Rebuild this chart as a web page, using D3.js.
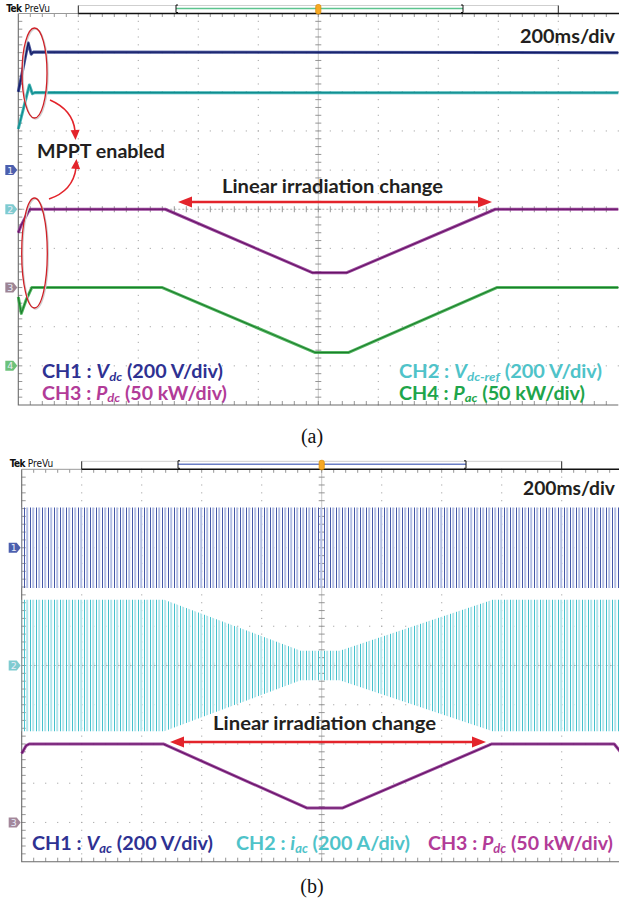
<!DOCTYPE html>
<html><head><meta charset="utf-8">
<script src="https://cdn.jsdelivr.net/npm/d3@7"></script>
<style>html,body{margin:0;padding:0;background:#fff}svg{display:block}</style>
</head><body>
<script>
// ================= DATA =================
const timeDomainMs = [-1000, 1000];            // 10 div x 200 ms, trigger at 0
const timeBaseLabel = "200ms/div";
const rampLabel = "Linear irradiation change";
const mpptLabel = "MPPT enabled";
const captions = ["(a)", "(b)"];

// Panel (a) traces: [time ms, value]  (V or kW)
const aCh1Vdc    = [[-1000,400],[-967,650],[-957,592],[-950,603],[1000,600]];
const aCh2VdcRef = [[-1000,410],[-963,635],[-953,590],[-945,596],[1000,595]];
const aCh3Pdc    = [[-1000,70],[-990,80],[-962,100],[-510,100],[-20,19],[95,19],[590,100],[1000,100]];
const aCh4Pac    = [[-1000,88],[-990,67],[-973,85],[-955,100],[-520,100],[-10,17],[100,17],[595,100],[1000,100]];

// Panel (b): AC traces drawn as their peak envelopes [time ms, peak]
const bCh1VacPeak = [[-1000,205],[1000,205]];
const bCh2IacPeak = [[-1000,335],[-525,335],[-70,75],[60,75],[570,335],[1000,335]];
const bCh3Pdc     = [[-1000,88],[-985,98],[-975,100],[-528,100],[-50,18.5],[70,18.5],[567,100],[975,100],[1000,88]];

// Channel settings: units per division, ground-marker offset (div)
const aChannels = [
  {id:"1", perDiv:200, offset:1,  data:aCh1Vdc},
  {id:"2", perDiv:200, offset:0,  data:aCh2VdcRef},
  {id:"3", perDiv:50,  offset:-2, data:aCh3Pdc},
  {id:"4", perDiv:50,  offset:-4, data:aCh4Pac}
];
const bChannels = [
  {id:"1", perDiv:200, offset:3,  data:bCh1VacPeak},
  {id:"2", perDiv:200, offset:0,  data:bCh2IacPeak},
  {id:"3", perDiv:50,  offset:-4, data:bCh3Pdc}
];

const aLegendRow1 = [
  [{t:"CH1 : "},{t:"V",i:1},{t:"dc",sub:1,i:1},{t:" (200 V/div)"}],
  [{t:"CH2 : "},{t:"V",i:1},{t:"dc-ref",sub:1,i:1},{t:" (200 V/div)"}]
];
const aLegendRow2 = [
  [{t:"CH3 : "},{t:"P",i:1},{t:"dc",sub:1,i:1},{t:" (50 kW/div)"}],
  [{t:"CH4 : "},{t:"P",i:1},{t:"ac",sub:1,i:1},{t:" (50 kW/div)"}]
];
const bLegend = [
  [{t:"CH1 : "},{t:"V",i:1},{t:"ac",sub:1,i:1},{t:" (200 V/div)"}],
  [{t:"CH2 : "},{t:"i",i:1},{t:"ac",sub:1,i:1},{t:" (200 A/div)"}],
  [{t:"CH3 : "},{t:"P",i:1},{t:"dc",sub:1,i:1},{t:" (50 kW/div)"}]
];

// ================= STYLE / LAYOUT =================
const FONT = "Lato, 'Open Sans', sans-serif";
const C = {
  ch1:"#233284", ch1Core:"#141d66", ch2:"#27a6a8", ch2Core:"#0f8c8e",
  ch3:"#8a2a8c", ch3Core:"#661266", ch4:"#35a845", ch4Core:"#1b7e2b",
  t1:"#2e3192", t2:"#4fc3c9", t3:"#b23b98", t4:"#1ea54a",
  red:"#e3242b", text:"#231f20"
};
const W = 619, H = 907;
const svg = d3.select("body").append("svg").attr("width",W).attr("height",H)
  .attr("font-family",FONT);
svg.append("rect").attr("width",W).attr("height",H).attr("fill","#fff");
const defs = svg.append("defs");

function stripePattern(id, dark, light){
  const p = defs.append("pattern").attr("id",id).attr("patternUnits","userSpaceOnUse")
    .attr("width",6).attr("height",10);
  p.append("rect").attr("x",0).attr("y",0).attr("width",1).attr("height",10).attr("fill",dark);
  p.append("rect").attr("x",2.2).attr("y",0).attr("width",2).attr("height",10).attr("fill",light);
}
stripePattern("stripeBlue", "#4457a6", "#b3bee4");
stripePattern("stripeTeal", "#45c1cc", "#b2e5eb");

function makePanel(P){
  P.x = d3.scaleLinear().domain(timeDomainMs).range([P.left, P.left+P.width]);
  P.yDiv = d3.scaleLinear().domain([-5,5]).range([P.top+P.height, P.top]);
  P.g = svg.append("g");
  return P;
}
const PA = makePanel({left:18.3, top:13.5, width:600, height:391.5});
const PB = makePanel({left:21.7, top:469.3, width:600, height:392.4});

function chY(P, ch){ return v => P.yDiv(ch.offset + v/ch.perDiv); }

function drawGrid(P){
  const g = P.g.append("g");
  const dx = P.width/10, dy = P.height/10;
  const cx = P.x(0), cy = P.yDiv(0);
  const dots = [];
  for (let i=1;i<10;i++){ if(i===5) continue;
    const x = P.left+i*dx;
    d3.range(0,51).forEach(j => dots.push([x, P.top+j*dy/5])); }
  for (let j=1;j<10;j++){ if(j===5) continue;
    const y = P.top+j*dy;
    d3.range(0,51).forEach(i => dots.push([P.left+i*dx/5, y])); }
  g.selectAll("rect.dot").data(dots).join("rect").attr("class","dot")
    .attr("x",d=>d[0]-0.55).attr("y",d=>d[1]-0.55).attr("width",1.1).attr("height",1.1).attr("fill","#a8a8a8");
  g.append("line").attr("x1",cx).attr("x2",cx).attr("y1",P.top).attr("y2",P.top+P.height)
    .attr("stroke","#b8b8b8").attr("stroke-width",0.8);
  g.append("line").attr("x1",P.left).attr("x2",P.left+P.width).attr("y1",cy).attr("y2",cy)
    .attr("stroke","#a8a8a8").attr("stroke-width",0.9).attr("stroke-dasharray","2,2");
  const tk = [];
  d3.range(1,50).forEach(j => tk.push([cx-3, P.top+j*dy/5, cx+3, P.top+j*dy/5]));
  d3.range(1,50).forEach(i => tk.push([P.left+i*dx/5, cy-3, P.left+i*dx/5, cy+3]));
  d3.range(1,50).forEach(j => tk.push([P.left, P.top+j*dy/5, P.left+4, P.top+j*dy/5]));
  d3.range(1,50).forEach(i => tk.push([P.left+i*dx/5, P.top+P.height, P.left+i*dx/5, P.top+P.height-4]));
  d3.range(1,50).forEach(i => tk.push([P.left+i*dx/5, P.top, P.left+i*dx/5, P.top+3.5]));
  g.selectAll("line.tk").data(tk).join("line").attr("class","tk")
    .attr("x1",d=>d[0]).attr("y1",d=>d[1]).attr("x2",d=>d[2]).attr("y2",d=>d[3])
    .attr("stroke","#8a8a8a").attr("stroke-width",0.9);
  g.append("path").attr("d",`M${P.left},${P.top}V${P.top+P.height}H${P.left+P.width}`)
    .attr("fill","none").attr("stroke","#6a6a6a").attr("stroke-width",1.1);
}

function drawTopBar(P, barColor, barL, barR){
  const g = P.g.append("g");
  const y0 = P.top;
  const bx0 = P.left+60, bx1 = P.left+540;
  g.append("text").attr("x",P.left-12).attr("y",y0-2).attr("font-family","'DejaVu Sans Condensed','DejaVu Sans',sans-serif")
    .attr("font-size",10).attr("fill","#111")
    .call(t => { t.append("tspan").attr("font-weight","bold").attr("letter-spacing",-0.6).text("Tek");
                 t.append("tspan").attr("dx",3).text("PreVu"); });
  g.append("line").attr("x1",P.left).attr("x2",bx0).attr("y1",y0).attr("y2",y0).attr("stroke","#999").attr("stroke-width",1);
  g.append("line").attr("x1",bx0).attr("x2",W+5).attr("y1",y0).attr("y2",y0).attr("stroke","#111").attr("stroke-width",1.4);
  g.append("line").attr("x1",bx0).attr("x2",bx1).attr("y1",y0-8).attr("y2",y0-8).attr("stroke","#cfcfcf").attr("stroke-width",1);
  [bx0,bx1].forEach(x => g.append("line").attr("x1",x).attr("x2",x).attr("y1",y0-8).attr("y2",y0).attr("stroke","#222").attr("stroke-width",1));
  g.append("line").attr("x1",barL).attr("x2",barR).attr("y1",y0-5).attr("y2",y0-5).attr("stroke",barColor).attr("stroke-width",1.6);
  g.append("path").attr("d",`M${barL+2},${y0-8.5}H${barL}V${y0-1}H${barL+2}`).attr("fill","none").attr("stroke","#111").attr("stroke-width",1);
  g.append("path").attr("d",`M${barR-2},${y0-8.5}H${barR}V${y0-1}H${barR-2}`).attr("fill","none").attr("stroke","#111").attr("stroke-width",1);
  const tx = P.x(0);
  g.append("rect").attr("x",tx-2.6).attr("y",y0-9).attr("width",5.2).attr("height",9.5).attr("rx",2)
    .attr("fill","#f7a823").attr("stroke","#d98b00").attr("stroke-width",0.7);
}

function drawMarker(P, ch, color){
  const y = P.yDiv(ch.offset), x = P.left-13;
  const g = P.g.append("g");
  g.append("path").attr("d",`M${x},${y-5}h8l4,5l-4,5h-8z`).attr("fill",color);
  g.append("text").attr("x",x+5).attr("y",y+3.5).attr("text-anchor","middle")
    .attr("font-size",9.5).attr("font-family","'DejaVu Sans',sans-serif").attr("fill","#e8ecf8").text(ch.id);
}

function drawTrace(P, ch, col, core){
  const y = chY(P, ch);
  const line = d3.line().x(d=>P.x(d[0])).y(d=>y(d[1]));
  P.g.append("path").datum(ch.data).attr("d",line).attr("fill","none").attr("stroke",col)
    .attr("stroke-width",3).attr("stroke-linejoin","round").attr("opacity",0.85);
  P.g.append("path").datum(ch.data).attr("d",line).attr("fill","none").attr("stroke",core)
    .attr("stroke-width",1.1).attr("stroke-linejoin","round");
}

function drawEnvelope(P, ch, fill){
  const y = chY(P, ch);
  const area = d3.area().x(d=>P.x(d[0])).y0(d=>y(-d[1])).y1(d=>y(d[1]));
  P.g.append("path").datum(ch.data).attr("d",area).attr("fill",fill);
}

function richText(g, x, y, parts, color, size, len){
  const t = g.append("text").attr("x",x).attr("y",y).attr("fill",color).attr("font-size",size)
    .attr("font-weight","bold");
  let shift = 0;
  parts.forEach(p => {
    const s = t.append("tspan").text(p.t);
    if (p.i) s.attr("font-style","italic");
    const target = p.sub ? 2.5 : 0;
    if (target !== shift){ s.attr("dy", target-shift); shift = target; }
    if (p.sub) s.attr("font-size", size*0.66);
  });
  if (len) t.attr("textLength",len).attr("lengthAdjust","spacingAndGlyphs");
  return t;
}

function plainText(g, x, y, str, size, len, anchor){
  const t = g.append("text").attr("x",x).attr("y",y).attr("font-size",size).attr("font-weight","bold")
    .attr("fill",C.text).attr("text-anchor",anchor||"start").text(str);
  if (len) t.attr("textLength",len).attr("lengthAdjust","spacingAndGlyphs");
  return t;
}

function arrowHead(g, tipX, tipY, angleDeg, len, half, color){
  const a = angleDeg*Math.PI/180;
  const bx = tipX - len*Math.cos(a), by = tipY - len*Math.sin(a);
  const nx = -Math.sin(a)*half, ny = Math.cos(a)*half;
  g.append("path").attr("d",`M${tipX},${tipY}L${bx+nx},${by+ny}L${bx-nx},${by-ny}Z`).attr("fill",color);
}

function doubleArrow(g, x1, x2, y){
  g.append("line").attr("x1",x1+10).attr("x2",x2-10).attr("y1",y).attr("y2",y)
    .attr("stroke",C.red).attr("stroke-width",2.6);
  arrowHead(g, x1, y, 180, 14, 5.5, C.red);
  arrowHead(g, x2, y, 0, 14, 5.5, C.red);
}

// ================= PANEL (a) =================
drawGrid(PA);
drawTopBar(PA, "#5cc48e", 176, 463);
const aCols = [[C.ch1,C.ch1Core],[C.ch2,C.ch2Core],[C.ch3,C.ch3Core],[C.ch4,C.ch4Core]];
const markerCols = ["#4c5fae","#7fcbd0","#9d8494","#6cc27a"];
aChannels.forEach((ch,i) => drawMarker(PA, ch, markerCols[i]));
aChannels.forEach((ch,i) => drawTrace(PA, ch, aCols[i][0], aCols[i][1]));

const ga = PA.g.append("g");
plainText(ga, 615, 43, timeBaseLabel, 19.5, 95, "end");
plainText(ga, 222, 193, rampLabel, 19, 221);
doubleArrow(ga, 178, 492, 202);
plainText(ga, 37, 158, mpptLabel, 19.5, 128);
[[34.5,73,12.5,45],[34.5,253,12.8,55]].forEach(e => {
  ga.append("ellipse").attr("cx",e[0]+1).attr("cy",e[1]+1).attr("rx",e[2]).attr("ry",e[3])
    .attr("fill","none").attr("stroke","#cfcfcf").attr("stroke-width",1.4);
  ga.append("ellipse").attr("cx",e[0]).attr("cy",e[1]).attr("rx",e[2]).attr("ry",e[3])
    .attr("fill","none").attr("stroke","#cf2027").attr("stroke-width",1.3);
});
ga.append("path").attr("d","M50,100 Q73,110 75,131").attr("fill","none").attr("stroke",C.red).attr("stroke-width",1.6);
arrowHead(ga, 75.5, 140, 88, 10, 4.5, C.red);
ga.append("path").attr("d","M49,199 Q73,191 76,168").attr("fill","none").attr("stroke",C.red).attr("stroke-width",1.6);
arrowHead(ga, 76.5, 159, -85, 10, 4.5, C.red);
richText(ga, 42, 378, aLegendRow1[0], C.t1, 18, 181);
richText(ga, 42, 399.5, aLegendRow2[0], C.t3, 18, 185);
richText(ga, 399, 378, aLegendRow1[1], C.t2, 18, 203);
richText(ga, 399, 399.5, aLegendRow2[1], C.t4, 18, 186);

svg.append("text").attr("x",312).attr("y",443).attr("text-anchor","middle")
  .attr("font-family","'Liberation Serif','Times New Roman',serif").attr("font-size",20).attr("fill","#111").text(captions[0]);

// ================= PANEL (b) =================
drawGrid(PB);
drawTopBar(PB, "#6b7fc6", 178, 466);
const bMarkerCols = ["#4c5fae","#7fcbd0","#a3879a"];
bChannels.forEach((ch,i) => drawMarker(PB, ch, bMarkerCols[i]));
drawEnvelope(PB, bChannels[0], "url(#stripeBlue)");
drawEnvelope(PB, bChannels[1], "url(#stripeTeal)");
drawTrace(PB, bChannels[2], C.ch3, C.ch3Core);

const gb = PB.g.append("g");
plainText(gb, 615, 495, timeBaseLabel, 19.5, 92, "end");
plainText(gb, 213, 730, rampLabel, 19, 223);
doubleArrow(gb, 170, 486, 742);
richText(gb, 32, 850, bLegend[0], C.t1, 19, 181);
richText(gb, 236, 850, bLegend[1], C.t2, 19, 174);
richText(gb, 428, 850, bLegend[2], C.t3, 19, 185);

svg.append("text").attr("x",312).attr("y",893).attr("text-anchor","middle")
  .attr("font-family","'Liberation Serif','Times New Roman',serif").attr("font-size",20).attr("fill","#111").text(captions[1]);
</script>
</body></html>
